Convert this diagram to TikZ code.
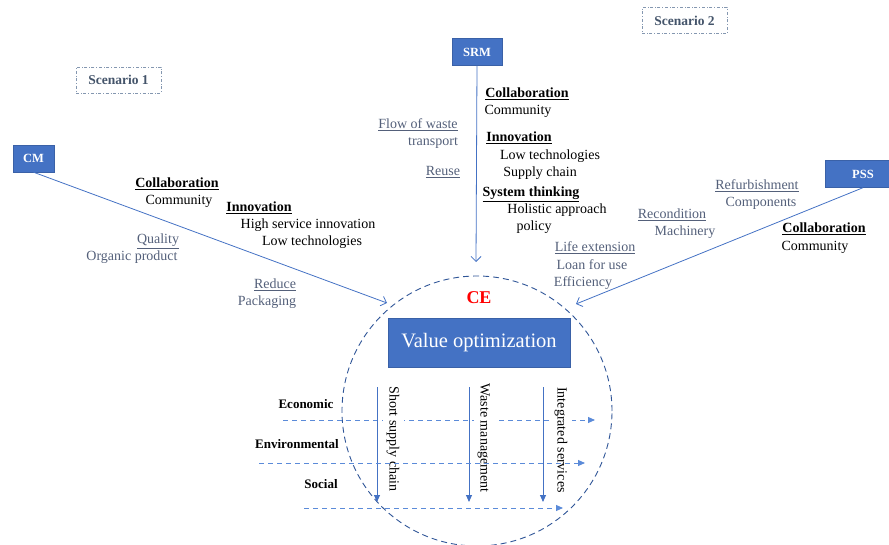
\documentclass[tikz,border=0pt]{standalone}
\usepackage{fontspec}
\setmainfont{Liberation Serif}
\usetikzlibrary{arrows.meta}
\definecolor{boxblue}{RGB}{68,114,196}
\definecolor{ringblue}{RGB}{47,85,151}
\definecolor{lineblue}{RGB}{91,139,217}
\definecolor{notegray}{RGB}{84,96,122}
\definecolor{scengray}{RGB}{68,84,106}
\definecolor{scenframe}{RGB}{132,151,176}
\tikzset{
  model/.style={fill=boxblue, draw=boxblue!85!black, text=white, inner sep=0pt,
    minimum height=27pt, font=\fontsize{12.5}{15}\selectfont\bfseries},
  scen/.style={draw=scenframe, dash dot, text=scengray, inner sep=0pt,
    minimum width=85pt, minimum height=26pt, font=\fontsize{13.5}{16}\selectfont\bfseries},
  item/.style={inner sep=0pt, text height=10pt, text depth=3pt, font=\fontsize{14}{17}\selectfont},
  head/.style={item, font=\fontsize{14}{17}\selectfont\bfseries},
  note/.style={item, text=notegray},
  dim/.style={inner sep=0pt, font=\fontsize{13}{16}\selectfont\bfseries},
  feed/.style={boxblue, line width=0.8pt, -{Straight Barb[length=5pt,width=10pt]}},
  pillar/.style={boxblue, line width=0.9pt, -{Triangle[length=7pt,width=6pt]}},
  level/.style={lineblue, line width=0.9pt, dash pattern=on 5pt off 4pt, -{Triangle[length=7pt,width=6pt]}}
}
\begin{document}
\begin{tikzpicture}[x=1pt,y=-1pt]
\useasboundingbox (0,0) rectangle (889,545);
%scenarios and business models
\node (scen1) [scen] at (118.5,80) {Scenario 1};
\node (scen2) [scen] at (684.5,20.5) {Scenario 2};
\node (cm) [model, minimum width=41pt] at (33.5,158.5) {CM};
\node (srm) [model, minimum width=50pt] at (477,52) {SRM};
\node (pss) [model, minimum width=76pt] at (863,174) {PSS};

\node (ce) [circle, draw=ringblue, line width=0.9pt, dash pattern=on 6pt off 4pt,
  minimum size=270pt, inner sep=0pt] at (477,411) {};
\node (cetitle) [text=red, font=\fontsize{18}{20}\selectfont\bfseries] at (479,298) {CE};
\node (value) [fill=boxblue, draw=boxblue!85!black, text=white, inner sep=0pt,
  minimum width=182pt, minimum height=49pt, font=\fontsize{20.5}{24}\selectfont] at (479,342.5) {Value optimization};

\coordinate (cmend) at (387,303);
\coordinate (srmend) at (476,262);
\coordinate (pssend) at (576,304);
\draw [feed] (cm.south) -- (cmend);
\draw [feed] (srm.south) -- (srmend);
\draw [feed] (pss.south) -- (pssend);

% CM
\node (cmcol) [head] at (177,184) {\underline{Collaboration}};
\node (cmcom) [item] at (179,201) {Community};
\node (cminn) [head] at (259,208) {\underline{Innovation}};
\node (cmhigh) [item] at (308,225) {High service innovation};
\node (cmlow) [item] at (312,242) {Low technologies};
\node (cmqual) [note] at (158,240) {\underline{Quality}};
\node (cmorg) [note] at (132,257) {Organic product};
\node (cmred) [note] at (275,285) {\underline{Reduce}};
\node (cmpack) [note] at (267,302) {Packaging};

% SRM
\node (srmcol) [head] at (527,94) {\underline{Collaboration}};
\node (srmcom) [item] at (518,111) {Community};
\node (srmflow) [note] at (418,125) {\underline{Flow of waste}};
\node (srmtrans) [note] at (433,142) {transport};
\node (srminn) [head] at (519,138) {\underline{Innovation}};
\node (srmlow) [item] at (550,156) {Low technologies};
\node (srmsup) [item] at (540,173) {Supply chain};
\node (srmreuse) [note] at (443,172) {\underline{Reuse}};
\node (srmsys) [head] at (531,193) {\underline{System thinking}};
\node (srmhol) [item] at (557,210) {Holistic approach};
\node (srmpol) [item] at (534,227) {policy};

% PSS
\node (pssref) [note] at (757,186) {\underline{Refurbishment}};
\node (psscomp) [note] at (761,203) {Components};
\node (pssrec) [note] at (672,215) {\underline{Recondition}};
\node (pssmach) [note] at (685,232) {Machinery};
\node (psscol) [head] at (824,229) {\underline{Collaboration}};
\node (psscom) [item] at (815,247) {Community};
\node (psslife) [note] at (595,248) {\underline{Life extension}};
\node (pssloan) [note] at (592,266) {Loan for use};
\node (psseff) [note] at (583,283) {Efficiency};

% pillars and levels
\node (econ) [dim] at (306,404) {Economic};
\node (env) [dim] at (297,444) {Environmental};
\node (soc) [dim] at (321,484) {Social};
\coordinate (econa) at (283,420);
\coordinate (econb) at (595,420);
\coordinate (enva) at (259,463);
\coordinate (envb) at (585,463);
\coordinate (soca) at (304,508);
\coordinate (socb) at (563,508);
\draw [level] (econa) -- (econb);
\foreach \n/\x in {short/377,waste/469,integ/543} {
  \coordinate (\n top) at (\x,387);
  \coordinate (\n bot) at (\x,502);
  \draw [pillar] (\n top) -- (\n bot);
}
\node (shortlbl) [item, rotate=-90, fill=white, inner xsep=0pt, inner ysep=4pt] at (393,439) {Short supply chain};
\node (wastelbl) [item, rotate=-90, fill=white, inner xsep=0pt, inner ysep=4pt] at (484,438) {Waste management};
\node (integlbl) [item, rotate=-90, fill=white, inner xsep=0pt, inner ysep=4pt] at (561,440) {Integrated services};
\draw [level] (enva) -- (envb);
\draw [level] (soca) -- (socb);
\end{tikzpicture}
\end{document}
